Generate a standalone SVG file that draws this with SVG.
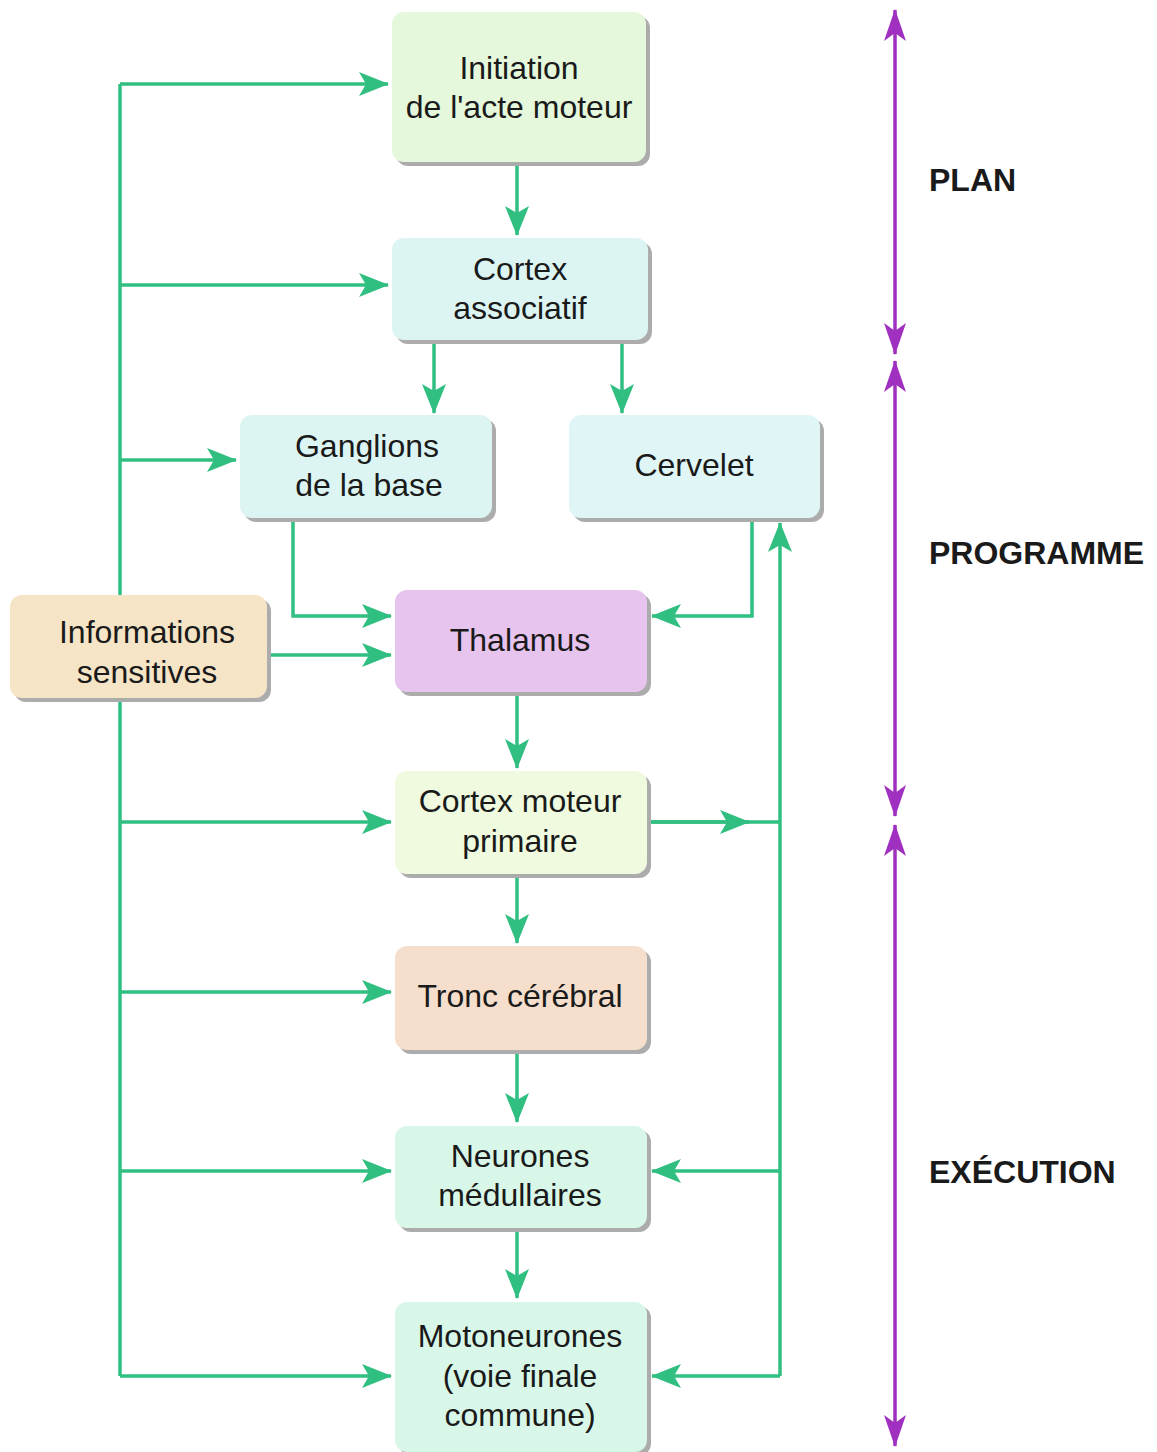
<svg xmlns="http://www.w3.org/2000/svg" width="1157" height="1452" viewBox="0 0 1157 1452">
<style>
.sh{fill:#acacac}
.n text{font-family:"Liberation Sans",Arial,sans-serif;font-size:32px;fill:#1a1a1a;text-anchor:middle}
.c{fill:none;stroke:#30bf80;stroke-width:3.5}
.p{fill:none;stroke:#a030c0;stroke-width:3.5}
.lab{font-family:"Liberation Sans",Arial,sans-serif;font-size:32px;font-weight:bold;fill:#1a1a1a}
</style>
<defs>
<marker id="ag" markerUnits="userSpaceOnUse" markerWidth="30" markerHeight="26" viewBox="0 0 30 26" refX="29" refY="13" orient="auto">
<path d="M0,1 L30,13 L0,25 L7,13 z" fill="#30bf80"/>
</marker>
<marker id="ap" markerUnits="userSpaceOnUse" markerWidth="32" markerHeight="24" viewBox="0 0 32 24" refX="31" refY="12" orient="auto">
<path d="M0,1 L32,12 L0,23 L8,12 z" fill="#a030c0"/>
</marker>
<marker id="aps" markerUnits="userSpaceOnUse" markerWidth="32" markerHeight="24" viewBox="0 0 32 24" refX="1" refY="12" orient="auto">
<path d="M32,1 L0,12 L32,23 L24,12 z" fill="#a030c0"/>
</marker>
</defs>
<rect width="1157" height="1452" fill="#ffffff"/>

<g id="connectors">
<path class="c" d="M120,84 V1376"/>
<path class="c" d="M120,84 H388" marker-end="url(#ag)"/>
<path class="c" d="M120,285 H388" marker-end="url(#ag)"/>
<path class="c" d="M120,460 H236" marker-end="url(#ag)"/>
<path class="c" d="M120,822 H391" marker-end="url(#ag)"/>
<path class="c" d="M120,992 H391" marker-end="url(#ag)"/>
<path class="c" d="M120,1171 H391" marker-end="url(#ag)"/>
<path class="c" d="M120,1376 H391" marker-end="url(#ag)"/>
<path class="c" d="M267,655 H391" marker-end="url(#ag)"/>
<path class="c" d="M293,518 V616 H391" marker-end="url(#ag)"/>
<path class="c" d="M752,518 V616 H652" marker-end="url(#ag)"/>
<path class="c" d="M517,162 V235" marker-end="url(#ag)"/>
<path class="c" d="M434,340 V413" marker-end="url(#ag)"/>
<path class="c" d="M622,340 V413" marker-end="url(#ag)"/>
<path class="c" d="M517,692 V768" marker-end="url(#ag)"/>
<path class="c" d="M517,874 V943" marker-end="url(#ag)"/>
<path class="c" d="M517,1050 V1122" marker-end="url(#ag)"/>
<path class="c" d="M517,1228 V1298" marker-end="url(#ag)"/>
<path class="c" d="M780,1376 V523" marker-end="url(#ag)"/>
<path class="c" d="M647,822 H780"/>
<path class="c" d="M647,822 H749" marker-end="url(#ag)"/>
<path class="c" d="M780,1171 H652" marker-end="url(#ag)"/>
<path class="c" d="M780,1376 H652" marker-end="url(#ag)"/>
</g>

<g id="phases">
<path class="p" d="M895,10 V354" marker-start="url(#aps)" marker-end="url(#ap)"/>
<path class="p" d="M895,361 V816" marker-start="url(#aps)" marker-end="url(#ap)"/>
<path class="p" d="M895,825 V1446" marker-start="url(#aps)" marker-end="url(#ap)"/>
<text class="lab" x="929" y="191">PLAN</text>
<text class="lab" x="929" y="564">PROGRAMME</text>
<text class="lab" x="929" y="1183">EXÉCUTION</text>
</g>

<g id="initiation" class="n">
<rect class="sh" x="396" y="16" width="254" height="150" rx="12"/>
<rect x="392" y="12" width="254" height="150" rx="12" fill="#e5f8dc"/>
<text x="519" y="79">Initiation</text>
<text x="519" y="118">de l'acte moteur</text>
</g>
<g id="cortex-associatif" class="n">
<rect class="sh" x="396" y="242" width="256" height="102" rx="12"/>
<rect x="392" y="238" width="256" height="102" rx="12" fill="#dcf5f3"/>
<text x="520" y="280">Cortex</text>
<text x="520" y="319">associatif</text>
</g>
<g id="ganglions" class="n">
<rect class="sh" x="244" y="419" width="252" height="103" rx="12"/>
<rect x="240" y="415" width="252" height="103" rx="12" fill="#dcf5f3"/>
<text x="367" y="457">Ganglions</text>
<text x="369" y="496">de la base</text>
</g>
<g id="cervelet" class="n">
<rect class="sh" x="573" y="419" width="251" height="103" rx="12"/>
<rect x="569" y="415" width="251" height="103" rx="12" fill="#e0f6f6"/>
<text x="694" y="476">Cervelet</text>
</g>
<g id="informations" class="n">
<rect class="sh" x="14" y="599" width="257" height="103" rx="12"/>
<rect x="10" y="595" width="257" height="103" rx="12" fill="#f5e4c6"/>
<text x="147" y="643">Informations</text>
<text x="147" y="683">sensitives</text>
</g>
<g id="thalamus" class="n">
<rect class="sh" x="399" y="594" width="252" height="102" rx="12"/>
<rect x="395" y="590" width="252" height="102" rx="12" fill="#e6c4ee"/>
<text x="520" y="651">Thalamus</text>
</g>
<g id="cortex-moteur" class="n">
<rect class="sh" x="399" y="775" width="252" height="103" rx="12"/>
<rect x="395" y="771" width="252" height="103" rx="12" fill="#effadf"/>
<text x="520" y="812">Cortex moteur</text>
<text x="520" y="852">primaire</text>
</g>
<g id="tronc" class="n">
<rect class="sh" x="399" y="950" width="252" height="104" rx="12"/>
<rect x="395" y="946" width="252" height="104" rx="12" fill="#f5dfcc"/>
<text x="520" y="1007">Tronc cérébral</text>
</g>
<g id="neurones" class="n">
<rect class="sh" x="399" y="1130" width="252" height="102" rx="12"/>
<rect x="395" y="1126" width="252" height="102" rx="12" fill="#d9f7e8"/>
<text x="520" y="1167">Neurones</text>
<text x="520" y="1206">médullaires</text>
</g>
<g id="motoneurones" class="n">
<rect class="sh" x="399" y="1306" width="252" height="150" rx="12"/>
<rect x="395" y="1302" width="252" height="150" rx="12" fill="#d9f7e8"/>
<text x="520" y="1347">Motoneurones</text>
<text x="520" y="1387">(voie finale</text>
<text x="520" y="1426">commune)</text>
</g>
</svg>
